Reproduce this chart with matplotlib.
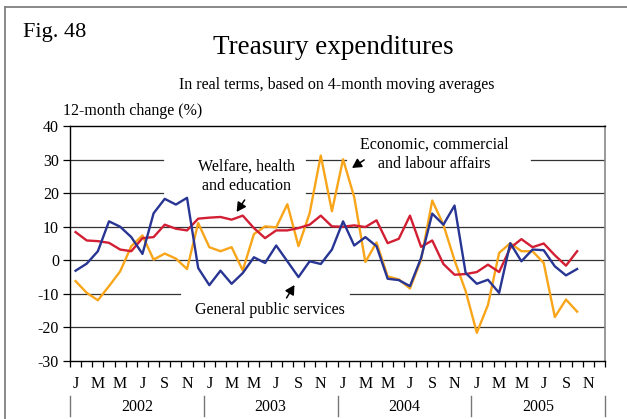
import matplotlib
matplotlib.use("Agg")
import matplotlib.pyplot as plt
import matplotlib.transforms as mtransforms
from matplotlib.lines import Line2D

plt.rcParams['font.family'] = ['Liberation Serif', 'DejaVu Serif']

#monthly values, jan 2002 - oct 2005 (12-month change, %)
general_public = [-3.1, -1.0, 2.7, 11.6, 10.0, 6.9, 1.9, 14.0, 18.3, 16.6, 18.6, -2.3,
	-7.4, -3.1, -7.0, -3.8, 0.9, -0.8, 4.4, -0.3, -5.0, -0.3, -1.1, 3.2,
	11.6, 4.4, 6.9, 4.2, -5.5, -5.9, -7.7, 0.7, 13.9, 10.6, 16.3, -3.8,
	-7.0, -5.8, -9.7, 5.1, -0.3, 3.2, 3.0, -1.8, -4.5, -2.6]
welfare = [8.4, 5.9, 5.7, 5.2, 3.2, 2.7, 6.6, 6.9, 10.6, 9.4, 8.9, 12.4,
	12.7, 12.9, 12.1, 13.3, 9.6, 6.6, 8.9, 8.9, 9.6, 10.6, 13.3, 10.1,
	10.0, 10.4, 9.9, 11.9, 5.1, 6.4, 13.3, 4.0, 5.9, -1.1, -4.3, -4.1,
	-3.5, -1.3, -3.5, 3.7, 6.3, 3.9, 5.0, 1.5, -1.6, 2.7]
economic = [-6.2, -9.7, -11.9, -7.7, -3.3, 4.2, 7.4, 0.2, 2.0, 0.5, -2.6, 11.1,
	3.9, 2.7, 3.9, -3.0, 7.8, 10.1, 9.8, 16.7, 4.2, 14.0, 31.2, 14.6,
	30.1, 18.8, -0.5, 5.3, -4.8, -5.7, -8.4, 0.2, 17.8, 10.6, 0.0, -9.2,
	-21.6, -13.3, 2.2, 5.1, 2.7, 2.7, -0.8, -16.9, -11.7, -15.3]
years = ["2002", "2003", "2004", "2005"]
month_letters = ["J", "M", "M", "J", "S", "N"]
yticks = [-30, -20, -10, 0, 10, 20, 30, 40]

RED = "#d21f34"
BLUE = "#283593"
ORANGE = "#f9a51a"
GRID = "#333333"

fig = plt.figure(figsize=(6.27, 4.19), dpi=100)
ax = fig.add_axes([70/627., 1-361/419., 535/627., 235/419.])

nmonths = len(years) * 12
xs = [i + 0.5 for i in range(len(welfare))]

#gridlines, broken where the labels sit
segments = {30: [(0, 8.3), (21.2, 24.8), (41.4, 48)],
	20: [(0, 8.3), (21.2, 48)],
	10: [(0, 48)], 0: [(0, 48)], -20: [(0, 48)],
	-10: [(0, 9.85), (25.1, 48)]}
for yv, segs in segments.items():
	for a, b in segs:
		ax.plot([a, b], [yv, yv], color=GRID, linewidth=0.9, zorder=1)

ax.plot(xs, economic, color=ORANGE, linewidth=1.7, zorder=3)
ax.plot(xs, welfare, color=RED, linewidth=1.7, zorder=4)
ax.plot(xs, general_public, color=BLUE, linewidth=1.7, zorder=5)

ax.set_xlim(0, nmonths)
ax.set_ylim(-30, 40)
ax.set_yticks(yticks)
ax.set_yticklabels([str(t) for t in yticks])
ax.tick_params(axis='y', direction='out', length=5, width=0.9, labelsize=11.5, pad=3)

#monthly ticks on boundaries, letters centred on every other month
ax.set_xticks(range(nmonths + 1))
ax.set_xticklabels([])
ax.tick_params(axis='x', which='major', direction='out', length=4.5, width=0.9)
ax.xaxis.set_ticks_position('bottom')
minor = [m + 0.5 for m in range(0, nmonths, 2)]
ax.set_xticks(minor, minor=True)
ax.set_xticklabels(month_letters * len(years), minor=True)
ax.tick_params(axis='x', which='minor', length=0, labelsize=11.5, pad=11)

for s in ['left', 'bottom', 'top']:
	ax.spines[s].set_color('black')
	ax.spines[s].set_linewidth(1.0)
ax.spines['right'].set_color('#888888')
ax.spines['right'].set_linewidth(1.2)

#year labels and separators under the axis
trans = mtransforms.blended_transform_factory(ax.transData, fig.transFigure)
for k, yr in enumerate(years):
	ax.text(12*k + 6, 1-407/419., yr, transform=trans, ha='center', va='center', fontsize=11.5)
for k in range(len(years) + 1):
	fig.add_artist(Line2D([12*k, 12*k], [1-396/419., 1-416/419.], transform=trans, color='#777777', linewidth=1.0))

#series labels with arrows
arrow = dict(arrowstyle='-|>,head_length=0.55,head_width=0.3', color='black', linewidth=1.1, shrinkA=0, shrinkB=0)
ax.text(15.85, 25.1, "Welfare, health\nand education", ha='center', va='center', fontsize=11.5, linespacing=1.3)
ax.annotate("", xy=(14.95, 14.4), xytext=(15.67, 17.96), arrowprops=arrow)
ax.text(32.7, 31.5, "Economic, commercial\nand labour affairs", ha='center', va='center', fontsize=11.5, linespacing=1.3)
ax.annotate("", xy=(25.3, 27.5), xytext=(26.4, 29.9), arrowprops=arrow)
ax.text(17.9, -14.8, "General public services", ha='center', va='center', fontsize=11.5)
ax.annotate("", xy=(20.14, -7.36), xytext=(19.43, -11.2), arrowprops=arrow)

#titles
fig.text(23/627., 1-33/419., "Fig. 48", ha='left', va='center', fontsize=16)
fig.text(333/627., 1-48/419., "Treasury expenditures", ha='center', va='center', fontsize=19.5)
fig.text(337/627., 1-85/419., "In real terms, based on 4-month moving averages", ha='center', va='center', fontsize=11.5)
fig.text(63/627., 1-111/419., "12-month change (%)", ha='left', va='center', fontsize=11.5)

#frame round the figure
fig.add_artist(Line2D([5/627., 5/627.], [0, 1-7/419.], transform=fig.transFigure, color='#808080', linewidth=1.3))
fig.add_artist(Line2D([5/627., 1], [1-7/419., 1-7/419.], transform=fig.transFigure, color='#808080', linewidth=1.3))

plt.savefig("out.png", dpi=100)
